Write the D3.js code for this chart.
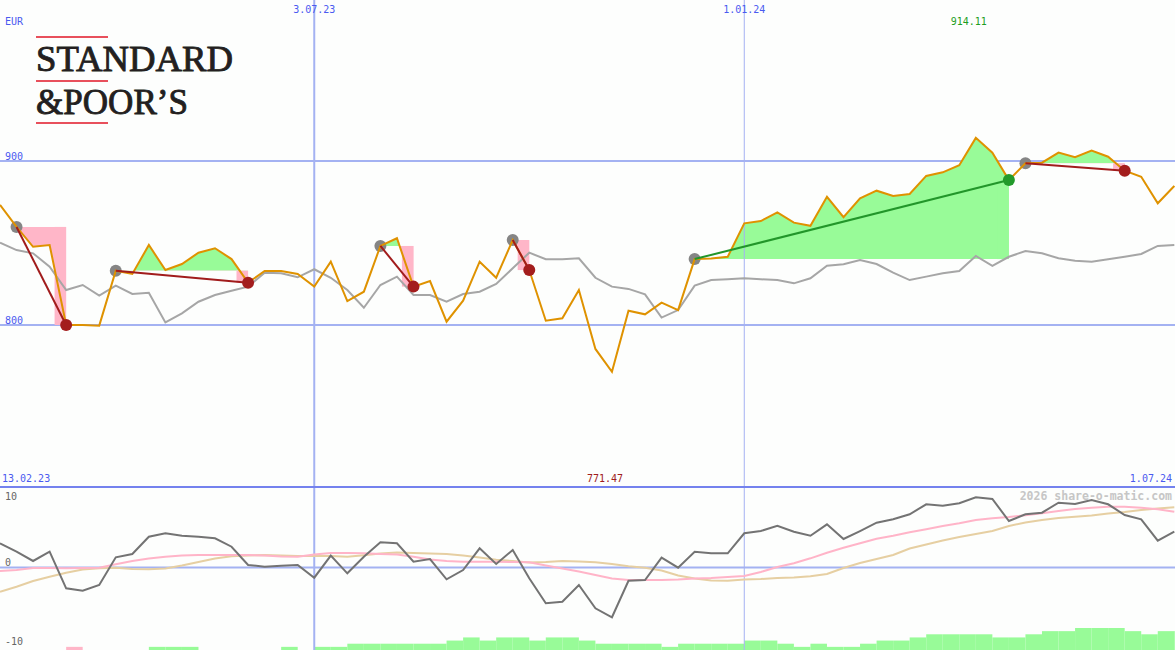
<!DOCTYPE html>
<html><head><meta charset="utf-8">
<script src="https://cdn.jsdelivr.net/npm/d3@7"></script>
<style>html,body{margin:0;padding:0;background:#fdfefd;} svg{display:block;}</style>
</head><body>
<svg id="c" width="1175" height="650"></svg>
<script>
// ---------- DATA ----------
const firstWeek = "2023-02-20";
const rangeStart = "2023-02-13";
const rangeEnd = "2024-07-01";
const price = [873.2, 859.8, 847.7, 848.8, 800.0, 800.0, 799.6, 833.1, 831.1, 848.8,
 833.5, 837.2, 844.1, 846.8, 840.2, 825.8, 832.9, 832.9, 831.1, 823.4,
 838.6, 814.6, 820.3, 848.2, 852.9, 823.4, 826.8, 802.0, 814.8, 838.6,
 828.8, 851.8, 833.5, 802.6, 804.1, 821.3, 785.4, 771.47, 808.7, 806.5,
 813.6, 809.1, 840.2, 840.5, 841.6, 862.0, 863.4, 868.7, 862.4, 860.5,
 878.2, 865.7, 877.3, 881.9, 878.7, 879.9, 890.9, 893.1, 897.4, 914.11,
 905.1, 888.4, 898.6, 899.0, 905.1, 902.3, 906.3, 902.6, 894.1, 890.4,
 874.2, 884.8];
const avg = [850.2, 845.7, 843.7, 835.5, 821.3, 824.4, 817.9, 824.0, 818.9, 819.7,
 801.6, 807.1, 814.2, 818.3, 820.9, 823.4, 831.9, 831.5, 829.1, 834.0,
 828.8, 821.3, 810.5, 824.4, 829.5, 818.3, 818.3, 814.2, 818.9, 820.3,
 825.0, 834.6, 844.1, 840.1, 840.1, 840.7, 828.8, 823.4, 822.0, 818.7,
 804.5, 809.1, 824.0, 827.4, 827.9, 828.5, 827.9, 827.4, 825.4, 828.5,
 836.2, 837.0, 839.6, 837.2, 831.9, 827.4, 829.5, 831.5, 832.9, 842.1,
 836.0, 841.6, 845.1, 843.7, 840.7, 839.2, 838.6, 840.1, 841.6, 843.3,
 848.2, 848.8];
const momentum = [3.46, 2.26, 0.93, 2.26, -2.97, -3.31, -2.5, 1.46, 1.93, 4.4,
 4.89, 4.54, 4.4, 4.17, 2.97, 0.36, 0.11, 0.26, 0.36, -1.46,
 1.69, -0.83, 1.54, 3.6, 3.46, 0.83, 1.21, -1.69, -0.36, 2.74,
 0.5, 2.5, -1.54, -5.11, -4.89, -2.5, -5.83, -7.11, -1.89, -1.79,
 1.4, -0.03, 2.26, 2.03, 2.03, 4.89, 5.21, 5.97, 5.1, 4.54,
 6.17, 4.07, 5.21, 6.4, 6.89, 7.6, 9.03, 8.83, 9.17, 10.03,
 9.79, 6.64, 7.6, 7.83, 9.26, 9.07, 9.64, 9.03, 7.5, 6.89,
 3.83, 5.11];
const signalPink = [-0.5, -0.36, -0.07, -0.07, -0.11, -0.07, -0.03, 0.46, 0.93, 1.27,
 1.54, 1.71, 1.79, 1.79, 1.79, 1.79, 1.71, 1.57, 1.54, 1.86,
 2.07, 2.07, 2.03, 1.93, 1.86, 1.54, 1.14, 0.93, 0.83, 0.83,
 0.83, 0.79, 0.74, 0.29, -0.14, -0.57, -1.07, -1.57, -1.79, -1.79,
 -1.79, -1.71, -1.57, -1.5, -1.36, -1.21, -0.64, 0.07, 0.6, 1.31,
 2.11, 2.83, 3.46, 4.11, 4.54, 5.03, 5.46, 5.93, 6.31, 6.79,
 7.03, 7.21, 7.46, 7.74, 8.07, 8.36, 8.54, 8.69, 8.69, 8.54,
 8.31, 7.97];
const signalTan = [-3.46, -2.74, -1.93, -1.31, -0.74, -0.29, -0.11, -0.03, -0.21, -0.26,
 -0.14, 0.29, 0.79, 1.29, 1.61, 1.71, 1.79, 1.71, 1.64, 1.64,
 1.64, 1.54, 1.76, 2.0, 2.14, 2.07, 2.0, 1.93, 1.71, 1.43,
 1.11, 0.93, 0.71, 0.79, 0.93, 0.86, 0.74, 0.5, 0.17, -0.03,
 -0.43, -1.14, -1.57, -1.86, -1.89, -1.71, -1.64, -1.5, -1.43, -1.26,
 -0.93, -0.07, 0.64, 1.21, 1.79, 2.71, 3.29, 3.86, 4.36, 4.79,
 5.21, 5.93, 6.43, 6.79, 7.07, 7.26, 7.43, 7.71, 7.93, 8.21,
 8.43, 8.6];
const bars = [0, 0, 0, 0, -1, 0, 0, 0, 0, 1,
 1, 1, 0, 0, 0, 0, 0, 1, 0, 1,
 1, 2, 2, 2, 2, 2, 2, 3, 4, 3,
 4, 4, 3, 4, 4, 3, 2, 2, 2, 2,
 1, 2, 2, 2, 2, 3, 3, 2, 1, 2,
 1, 1, 2, 3, 3, 4, 5, 5, 5, 5,
 4, 4, 5, 6, 6, 7, 7, 7, 6, 5,
 6, 6];
const entryIdx = [1, 7, 23, 31, 42, 62];
const exitIdx  = [4, 15, 25, 32, 61, 68];
const priceTicks = [800, 900];
const lowTicks = [10, 0, -10];
const dateLines = ["2023-07-03", "2024-01-01"];
const currency = "EUR";
const watermark = "2026 share-o-matic.com";

// ---------- SETUP ----------
const svg = d3.select("#c");
const W = 1175, H = 650;
const pd = d3.utcParse("%Y-%m-%d");
const fmt = d => `${d.getUTCDate()}.${d3.utcFormat("%m.%y")(d)}`;
const d0 = pd(firstWeek);
const dates = price.map((_, i) => d3.utcDay.offset(d0, 7 * i));
const x = d3.scaleUtc().domain([pd(rangeStart), pd(rangeEnd)]).range([-16.54, 1174.3]);
const y = d3.scaleLinear().domain([800, 900]).range([325, 161]);
const yl = d3.scaleLinear().domain([-10, 10]).range([637.5, 497.5]);
const hb = d3.scaleLinear().domain([0, 7]).range([0, 22]);
const X = i => x(dates[i]);

const BLUE_TXT = "#4a5af0", GRID = "#a4b2f2", MONO = "'DejaVu Sans Mono', monospace";
const GREEN_FILL = "#98fb98", PINK_FILL = "#ffb6c8";

svg.append("rect").attr("width", W).attr("height", H).attr("fill", "#fdfefd");

// ---------- GRID ----------
const grid = svg.append("g");
grid.selectAll("line.h").data(priceTicks).join("line")
  .attr("x1", 0).attr("x2", W).attr("y1", d => y(d)).attr("y2", d => y(d))
  .attr("stroke", GRID).attr("stroke-width", 2);
grid.append("line").attr("x1", 0).attr("x2", W).attr("y1", yl(0)).attr("y2", yl(0))
  .attr("stroke", GRID).attr("stroke-width", 2);

// ---------- BARS (lower panel) ----------
svg.append("g").selectAll("rect").data(bars.map((v, i) => ({v, i})).filter(d => d.v !== 0)).join("rect")
  .attr("x", d => X(d.i))
  .attr("width", d => (d.i + 1 < dates.length ? X(d.i + 1) : X(d.i) + 16.54) - X(d.i))
  .attr("y", d => H - hb(Math.abs(d.v)))
  .attr("height", d => hb(Math.abs(d.v)))
  .attr("fill", d => d.v > 0 ? GREEN_FILL : PINK_FILL);

// ---------- TRADE FILLS ----------
const defs = svg.append("defs");
const fills = svg.append("g");
entryIdx.forEach((e, k) => {
  const xi = exitIdx[k];
  const yL = y(price[e]);
  const idx = d3.range(e, xi + 1);
  const area = d3.area().x(i => X(i)).y0(yL).y1(i => y(price[i]));
  defs.append("clipPath").attr("id", "up" + k).append("rect")
    .attr("x", X(e)).attr("width", X(xi) - X(e)).attr("y", 0).attr("height", yL);
  defs.append("clipPath").attr("id", "dn" + k).append("rect")
    .attr("x", X(e)).attr("width", X(xi) - X(e)).attr("y", yL).attr("height", 480 - yL);
  fills.append("path").attr("d", area(idx)).attr("fill", GREEN_FILL).attr("clip-path", `url(#up${k})`);
  fills.append("path").attr("d", area(idx)).attr("fill", PINK_FILL).attr("clip-path", `url(#dn${k})`);
  const yE = y(price[xi]);
  const xs = X(xi - 1) + (X(xi) - X(xi - 1)) * 0.3;
  fills.append("rect").attr("x", xs).attr("width", X(xi) - xs)
    .attr("y", Math.min(yL, yE)).attr("height", Math.abs(yE - yL))
    .attr("fill", price[xi] >= price[e] ? GREEN_FILL : PINK_FILL);
});

// ---------- VERTICAL DATE LINES ----------
svg.selectAll("line.v").data(dateLines).join("line")
  .attr("x1", d => x(pd(d))).attr("x2", d => x(pd(d))).attr("y1", 0).attr("y2", H)
  .attr("stroke", GRID).attr("stroke-width", (d, i) => i === 0 ? 2 : 1);

// separator of lower panel
svg.append("line").attr("x1", 0).attr("x2", W).attr("y1", 487).attr("y2", 487)
  .attr("stroke", "#7482ee").attr("stroke-width", 2);

// ---------- LINES ----------
const line = (arr, sc) => d3.line().x((d, i) => X(i)).y(d => sc(d))(arr);
svg.append("path").attr("d", line(avg, y)).attr("fill", "none").attr("stroke", "#a6a6a6").attr("stroke-width", 2);

// entry circles
svg.append("g").selectAll("circle").data(entryIdx).join("circle")
  .attr("cx", i => X(i)).attr("cy", i => y(price[i])).attr("r", 6).attr("fill", "#858585");

svg.append("path").attr("d", line(price, y)).attr("fill", "none").attr("stroke", "#df9200").attr("stroke-width", 2);

// trade connection lines
svg.append("g").selectAll("line").data(entryIdx.map((e, k) => [e, exitIdx[k]])).join("line")
  .attr("x1", d => X(d[0])).attr("y1", d => y(price[d[0]]))
  .attr("x2", d => X(d[1])).attr("y2", d => y(price[d[1]]))
  .attr("stroke", d => price[d[1]] >= price[d[0]] ? "#22962a" : "#a11c1c").attr("stroke-width", 2);

// exit circles
svg.append("g").selectAll("circle").data(exitIdx.map((xi, k) => [entryIdx[k], xi])).join("circle")
  .attr("cx", d => X(d[1])).attr("cy", d => y(price[d[1]])).attr("r", 6)
  .attr("fill", d => price[d[1]] >= price[d[0]] ? "#229a2a" : "#a31d1d");

// lower panel lines
svg.append("path").attr("d", line(signalTan, yl)).attr("fill", "none").attr("stroke", "#e6cfa2").attr("stroke-width", 2);
svg.append("path").attr("d", line(signalPink, yl)).attr("fill", "none").attr("stroke", "#ffb4c8").attr("stroke-width", 2);
svg.append("path").attr("d", line(momentum, yl)).attr("fill", "none").attr("stroke", "#737373").attr("stroke-width", 2);

// ---------- TEXT ----------
const T = svg.append("g").attr("font-family", MONO).attr("font-size", 10);
T.append("text").attr("x", 5).attr("y", 25).attr("fill", BLUE_TXT).text(currency);
T.selectAll("text.pt").data(priceTicks).join("text").attr("class", "pt")
  .attr("x", 5).attr("y", d => y(d) - 1).attr("fill", BLUE_TXT).text(d => d);
T.selectAll("text.dt").data(dateLines).join("text").attr("class", "dt")
  .attr("x", d => x(pd(d))).attr("y", 13).attr("text-anchor", "middle").attr("fill", BLUE_TXT)
  .text(d => fmt(pd(d)));
T.append("text").attr("x", 2).attr("y", 482).attr("fill", BLUE_TXT).text(fmt(pd(rangeStart)));
T.append("text").attr("x", 1172).attr("y", 482).attr("text-anchor", "end").attr("fill", BLUE_TXT).text(fmt(pd(rangeEnd)));
const iMax = d3.maxIndex(price), iMin = d3.minIndex(price);
T.append("text").attr("x", X(iMax) - 7).attr("y", 25).attr("text-anchor", "middle").attr("fill", "#1e9e1e").text(price[iMax].toFixed(2));
T.append("text").attr("x", X(iMin) - 7).attr("y", 482).attr("text-anchor", "middle").attr("fill", "#a01c1c").text(price[iMin].toFixed(2));
const lowLabelY = {"10": 500, "0": 566, "-10": 645};
T.selectAll("text.lt").data(lowTicks).join("text").attr("class", "lt")
  .attr("x", 5).attr("y", d => lowLabelY[d]).attr("fill", "#666").text(d => d);
T.append("text").attr("x", 1172).attr("y", 500).attr("text-anchor", "end").attr("font-size", 11.5)
  .attr("font-weight", "bold").attr("fill", "#c6c6c6").text(watermark);

// ---------- LOGO ----------
const logo = svg.append("g");
[37, 81, 123].forEach(yy => logo.append("line").attr("x1", 36).attr("x2", 108).attr("y1", yy).attr("y2", yy)
  .attr("stroke", "#e8505c").attr("stroke-width", 2));
logo.append("text").attr("x", 36).attr("y", 71).attr("font-family", "'Liberation Serif', serif")
  .attr("font-size", 36).attr("fill", "#231f20").attr("stroke", "#231f20").attr("stroke-width", 0.9)
  .attr("textLength", 197).attr("lengthAdjust", "spacingAndGlyphs")
  .text("STANDARD");
logo.append("text").attr("x", 36).attr("y", 114).attr("font-family", "'Liberation Serif', serif")
  .attr("font-size", 36).attr("fill", "#231f20").attr("stroke", "#231f20").attr("stroke-width", 0.9)
  .attr("textLength", 152).attr("lengthAdjust", "spacingAndGlyphs")
  .text("&POOR’S");
</script>
</body></html>
